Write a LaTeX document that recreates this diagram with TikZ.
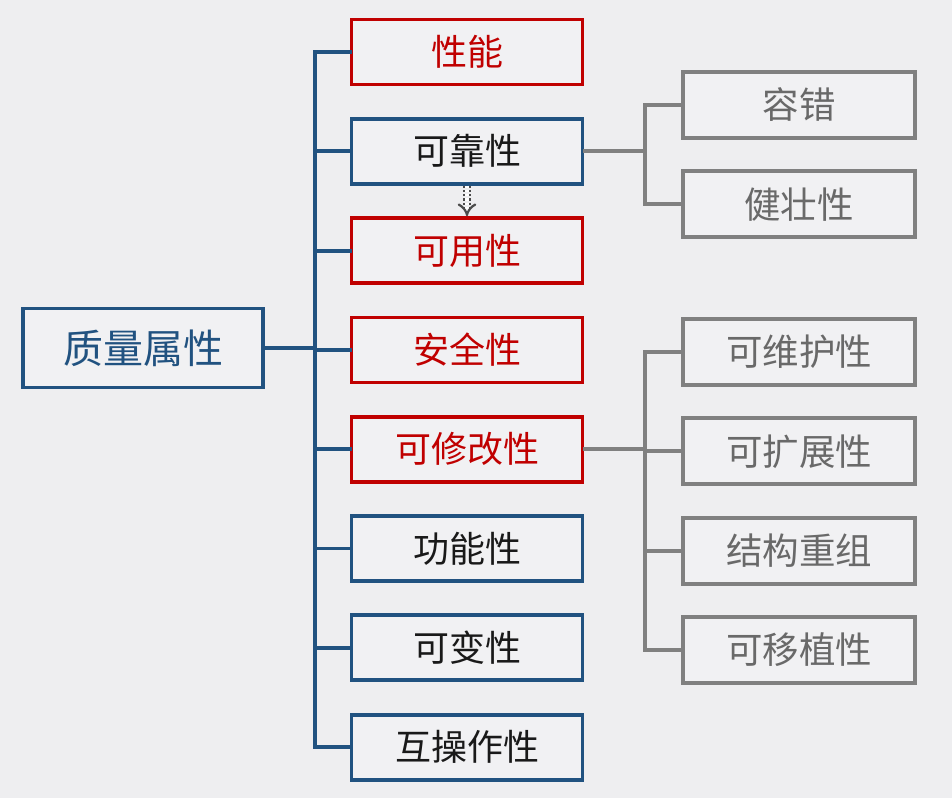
\documentclass[tikz,border=0pt]{standalone}
\usepackage{fontspec}
\setmainfont{Noto Sans CJK SC}
\usepackage{xcolor}
\usepackage{tikz}
\usetikzlibrary{positioning, arrows.meta}
\definecolor{qblue}{RGB}{33,82,128}
\definecolor{qred}{RGB}{192,0,0}
\definecolor{qgray}{RGB}{128,128,128}
\definecolor{qtext}{RGB}{105,105,105}
\definecolor{qbg}{RGB}{238,238,240}
\tikzset{
  attr/.style={rectangle, minimum width=231pt, minimum height=65pt, text centered, draw=qblue, line width=3.8pt, fill=qbg!80!white, text=black!90, font=\fontsize{36}{42}\selectfont},
  keyattr/.style={attr, draw=qred, text=qred},
  subattr/.style={attr, minimum width=232pt, minimum height=66pt, draw=qgray, text=qtext, font=\fontsize{36.5}{42}\selectfont},
  rootattr/.style={attr, minimum width=240pt, minimum height=79pt, text=qblue, font=\fontsize{40}{46}\selectfont},
  link/.style={draw=qblue, line width=3.8pt, line cap=rect},
  sublink/.style={draw=qgray, line width=3.8pt, line cap=rect},
  hintarrow/.style={draw=black!70, dotted, double, double distance=4pt, line width=2.2pt, -{Implies}}
}
\begin{document}
\begin{tikzpicture}[x=1pt, y=-1pt, node distance=30.5pt]
\fill[qbg] (0,0) rectangle (952,798);
\useasboundingbox (0,0) rectangle (952,798);

% root
\node[rootattr] (quality) at (143,348) {质量属性};

% middle column
\node[keyattr] (perf) at (467,52) {性能};
\node[attr, below=of perf] (rel) {可靠性};
\node[keyattr, below=of rel] (avail) {可用性};
\node[keyattr, below=of avail] (sec) {安全性};
\node[keyattr, below=of sec] (modif) {可修改性};
\node[attr, below=of modif] (func) {功能性};
\node[attr, below=of func] (var) {可变性};
\node[attr, below=of var] (inter) {互操作性};

% right column
\node[subattr] (tol) at (799,105) {容错};
\node[subattr, below=29.5pt of tol] (rob) {健壮性};
\node[subattr] (maint) at (799,352) {可维护性};
\node[subattr, below=29.5pt of maint] (ext) {可扩展性};
\node[subattr, below=29.5pt of ext] (restr) {结构重组};
\node[subattr, below=29.5pt of restr] (port) {可移植性};

% forks
\coordinate (trunk) at (315,348);
\coordinate (relfork) at (645,151);
\coordinate (modfork) at (645,448);

\draw[link] (quality.east) -- (quality.east -| trunk);
\draw[link] (trunk |- perf.west) -- (trunk |- inter.west);
\foreach \n in {perf,rel,avail,sec,modif,func,var,inter}
  \draw[link] (\n.west) -- (\n.west -| trunk);

\draw[sublink] (rel.east) -- (rel.east -| relfork);
\draw[sublink] (relfork |- tol.west) -- (relfork |- rob.west);
\foreach \n in {tol,rob}
  \draw[sublink] (\n.west) -- (\n.west -| relfork);

\draw[sublink] (modif.east) -- (modif.east -| modfork);
\draw[sublink] (modfork |- maint.west) -- (modfork |- port.west);
\foreach \n in {maint,ext,restr,port}
  \draw[sublink] (\n.west) -- (\n.west -| modfork);

\draw[hintarrow] (rel.south) -- (avail.north);
\end{tikzpicture}
\end{document}
